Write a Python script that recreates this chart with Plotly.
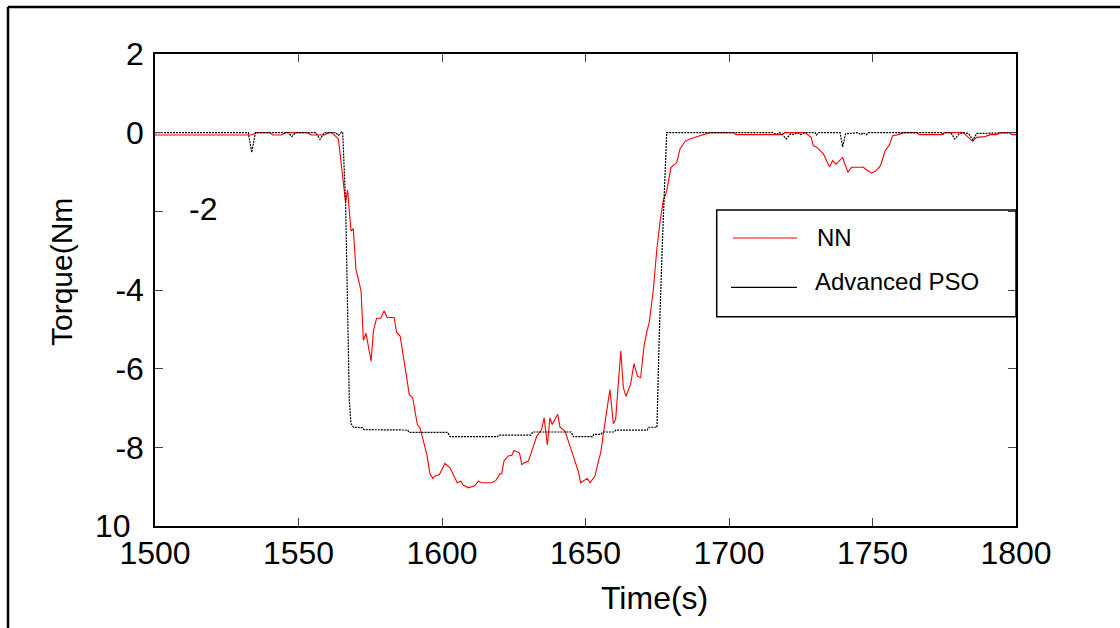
import plotly.graph_objects as go

# Torque response, NN controller
time_nn = [1500, 1533.5, 1535.5, 1540, 1541, 1544, 1545.5, 1553, 1554.5, 1559, 1560.5, 1561.6,
           1563.9, 1566.4, 1567.1, 1568.3, 1569.1, 1570, 1571.8, 1572.6, 1573.5, 1575.3, 1576.1,
           1577.2, 1578.7, 1579.8, 1580.9, 1583.3, 1584.2, 1585.4, 1586.8, 1588.6, 1589.8, 1591.4,
           1592.3, 1594.7, 1595.8, 1596.8, 1597.6, 1599.1, 1601.0, 1602.8, 1605.3, 1606.5, 1607.4,
           1609.2, 1611.5, 1612.7, 1613.8, 1617.3, 1618.8, 1620.2, 1620.8, 1621.6, 1623.1, 1624.3,
           1625.1, 1627.0, 1627.8, 1628.6, 1630.1, 1631.6, 1633.0, 1634.7, 1635.6, 1636.7, 1637.6,
           1638.4, 1640.3, 1641.1, 1642.9, 1644.6, 1647.5, 1648.3, 1650.6, 1651.6, 1653.3, 1654.5,
           1655.3, 1656.2, 1658.5, 1659.7, 1660.5, 1662.3, 1663.2, 1664.1, 1665.7, 1666.9, 1668.1,
           1669.2, 1670.4, 1671.3, 1672.2, 1673.6, 1674.8, 1676.0, 1677.1, 1678.3, 1679.8, 1681.8,
           1682.9, 1684.7, 1686.4, 1689.9, 1692.2, 1693.4, 1701.5, 1702.4, 1718.4, 1719.5, 1726.5,
           1728.6, 1729.4, 1730.5, 1732.9, 1735.0, 1736.1, 1737.3, 1739.6, 1741.4, 1742.7, 1746.8,
           1748.0, 1749.7, 1751.2, 1752.8, 1754.4, 1755.9, 1757.0, 1759.0, 1760.8, 1765.4, 1766.3,
           1774.1, 1775.0, 1781.6, 1783.4, 1784.9, 1786.3, 1789.2, 1791.0, 1793.3, 1794.4, 1797.9,
           1798.5, 1800]
torque_nn = [-0.06, -0.06, 0, 0, -0.06, -0.06, 0, 0, -0.06, -0.06, 0, 0,
             -0.16, -1.77, -1.46, -2.5, -2.44, -3.47, -4.02, -5.28, -5.1, -5.81, -5.04,
             -4.72, -4.72, -4.53, -4.7, -4.7, -5.08, -5.17, -5.81, -6.66, -6.74, -7.42,
             -7.5, -8.18, -8.67, -8.79, -8.73, -8.69, -8.41, -8.52, -8.9, -8.86, -8.96,
             -9.03, -8.97, -8.86, -8.9, -8.9, -8.84, -8.67, -8.67, -8.35, -8.22, -8.2,
             -8.08, -8.14, -8.44, -8.4, -8.35, -8.01, -7.72, -7.55, -7.25, -7.94, -7.25,
             -7.42, -7.16, -7.48, -7.59, -7.97, -8.61, -8.9, -8.79, -8.9, -8.73, -8.35,
             -8.14, -7.67, -6.53, -7.4, -7.29, -5.55, -6.49, -6.7, -6.4, -5.87, -6.19,
             -6.23, -5.42, -5.08, -4.83, -4.02, -3.01, -2.24, -1.73, -1.48, -0.88, -0.76,
             -0.42, -0.22, -0.16, -0.08, -0.02, 0, 0, -0.05, -0.05, 0, 0,
             -0.12, -0.33, -0.37, -0.54, -0.87, -0.71, -0.8, -0.63, -1.01, -0.88, -0.88,
             -0.95, -1.03, -0.97, -0.84, -0.46, -0.31, -0.08, -0.05, 0, 0, -0.05,
             -0.05, 0, 0, -0.12, -0.22, -0.12, -0.1, -0.05, -0.05, 0, 0,
             -0.05, -0.05]

# Torque response, Advanced PSO controller
time_pso = [1500, 1532.5, 1533.7, 1535, 1546.5, 1547.7, 1549, 1556, 1557.5, 1559, 1563, 1563.9,
            1565, 1565.4, 1566.4, 1567.0, 1567.7, 1568.3, 1569.2, 1572.3, 1572.8, 1588, 1588.6,
            1602, 1602.8, 1619.3, 1619.8, 1631, 1631.6, 1645, 1645.8, 1652.4, 1652.9, 1655.4,
            1656, 1660, 1660.6, 1671.5, 1672, 1674.9, 1675.7, 1676.9, 1677.8, 1678.3, 1715.5,
            1716.5, 1717.5, 1718.5, 1719.9, 1721.5, 1722.5, 1723.8, 1725, 1726.5, 1730, 1730.5,
            1731.2, 1738.7, 1739.6, 1740.6, 1745, 1746, 1746.8, 1747.8, 1748.6, 1774, 1774.5,
            1775.5, 1777.3, 1778.7, 1780.2, 1781.6, 1783.5, 1785, 1786.3, 1800]
torque_pso = [0, 0, -0.5, 0, 0, -0.1, 0, 0, -0.17, 0, 0, -0.07,
              0.02, 0, -1.75, -4.3, -6.8, -7.4, -7.49, -7.5, -7.55, -7.56, -7.62,
              -7.62, -7.73, -7.73, -7.69, -7.69, -7.61, -7.61, -7.73, -7.73, -7.67, -7.67,
              -7.61, -7.61, -7.56, -7.56, -7.49, -7.49, -5.15, -2.57, -0.88, 0, 0,
              -0.05, 0, -0.03, -0.16, -0.03, -0.05, 0, -0.05, 0, 0, -0.06,
              0, 0, -0.36, -0.03, 0, -0.05, 0, -0.05, 0, 0, -0.04,
              0, 0, -0.16, -0.03, 0, -0.02, -0.19, -0.02, 0]

x_ticks = [1500, 1550, 1600, 1650, 1700, 1750, 1800]
y_ticks = [2, 0, -2, -4, -6, -8, -10]
y_tick_text = ["2", "0", "", "-4", "-6", "-8", ""]

FONT = "Liberation Sans, Arial, sans-serif"
TICK_SIZE = 32

fig = go.Figure()
fig.add_trace(go.Scatter(x=time_nn, y=torque_nn, mode="lines", name="NN",
                         line=dict(color="#ff0000", width=1.1)))
fig.add_trace(go.Scatter(x=time_pso, y=torque_pso, mode="lines", name="Advanced PSO",
                         line=dict(color="#000000", width=1.2, dash="2px,1px")))

axis_common = dict(showline=True, linecolor="#000000", linewidth=1.5, mirror="ticks",
                   ticks="inside", ticklen=8, tickwidth=1, tickcolor="#444444",
                   showgrid=False, zeroline=False,
                   tickfont=dict(family=FONT, size=TICK_SIZE, color="#000000"))

fig.update_xaxes(range=[1500, 1800], tickvals=x_ticks, ticklabelstandoff=-2, **axis_common)
fig.update_yaxes(range=[-10, 2], tickvals=y_ticks, ticktext=y_tick_text, ticklabelstandoff=3,
                 **axis_common)

# Axis titles
fig.add_annotation(x=0.5807, xref="paper", y=-0.152, yref="paper", text="Time(s)",
                   showarrow=False, xanchor="center", yanchor="middle",
                   font=dict(family=FONT, size=32, color="#000000"))
fig.add_annotation(x=-0.1092, xref="paper", y=0.538, yref="paper", text="Torque(Nm",
                   showarrow=False, xanchor="center", yanchor="middle", textangle=-90,
                   font=dict(family=FONT, size=30, color="#000000"))

# Offset y tick labels
fig.add_annotation(x=0, xref="paper", y=-2, yref="y", text="-2", showarrow=False,
                   xanchor="center", yanchor="middle", xshift=48, yshift=2,
                   font=dict(family=FONT, size=TICK_SIZE, color="#000000"))
fig.add_annotation(x=0, xref="paper", y=-10, yref="y", text="10", showarrow=False,
                   xanchor="right", yanchor="middle", xshift=-22,
                   font=dict(family=FONT, size=TICK_SIZE, color="#000000"))

# Legend box with line samples
leg_font = dict(family=FONT, size=24, color="#000000")
fig.add_shape(type="rect", xref="paper", yref="paper", x0=0.6524, x1=1.0, y0=0.4434, y1=0.6695,
              line=dict(color="#000000", width=1.5), fillcolor="rgba(255,255,255,0)")
fig.add_shape(type="line", xref="paper", yref="paper", x0=0.6713, x1=0.7456, y0=0.6102, y1=0.6102,
              line=dict(color="#ff0000", width=1.2))
fig.add_shape(type="line", xref="paper", yref="paper", x0=0.669, x1=0.7456, y0=0.5057, y1=0.5057,
              line=dict(color="#000000", width=1.2))
fig.add_annotation(x=0.7665, y=0.6102, xref="paper", yref="paper", text="NN", showarrow=False,
                   xanchor="left", yanchor="middle", font=leg_font)
fig.add_annotation(x=0.7645, y=0.519, xref="paper", yref="paper", text="Advanced PSO",
                   showarrow=False, xanchor="left", yanchor="middle", font=leg_font)

# Outer frame (top and left edges)
fig.add_shape(type="line", xref="paper", yref="paper", x0=-0.1707, x1=1.13, y0=1.0996, y1=1.0996,
              line=dict(color="#000000", width=2.5))
fig.add_shape(type="line", xref="paper", yref="paper", x0=-0.1707, x1=-0.1707, y0=1.0996, y1=-0.25,
              line=dict(color="#000000", width=2.5))

fig.update_layout(width=1120, height=628, showlegend=False,
                  margin=dict(l=155, r=104, t=54, b=102, autoexpand=False),
                  paper_bgcolor="#ffffff", plot_bgcolor="#ffffff",
                  font=dict(family=FONT, color="#000000"))

fig.write_html("out.html")
